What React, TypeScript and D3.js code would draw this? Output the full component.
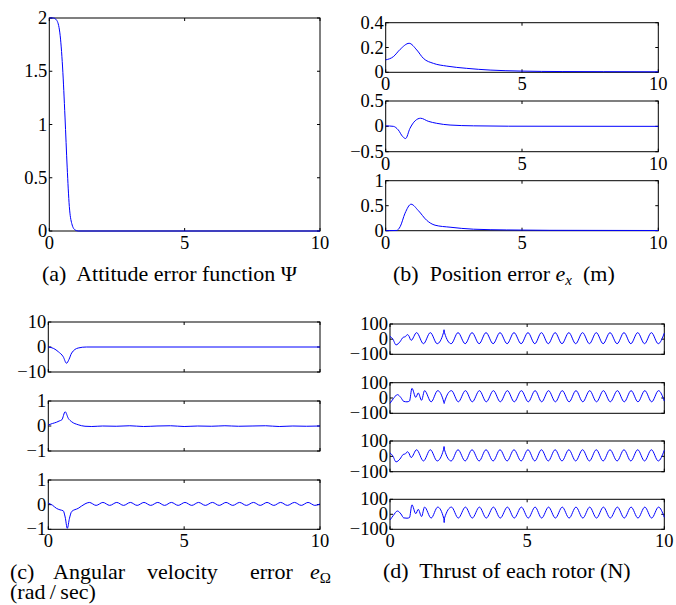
import React from "react";
import * as d3 from "d3";

type P = [number, number];

const xTicks = [0, 5, 10];
const xTickLabels = ["0", "5", "10"];

// (a) attitude error function Psi
const psiData: P[] = [[0, 2], [0.15, 2], [0.27, 1.98], [0.39, 1.86], [0.49, 1.54], [0.58, 1.07], [0.66, 0.6], [0.74, 0.23], [0.83, 0.07], [0.95, 0.01], [1.07, 0], [10, 0]];
const psiYTicks = [0, 0.5, 1, 1.5, 2];
const psiYLabels = ["0", "0.5", "1", "1.5", "2"];

// (b) position error components
const posX: P[] = [[0, 0.1], [0.28, 0.126], [0.53, 0.185], [0.86, 0.234], [1.14, 0.18], [1.38, 0.113], [1.75, 0.072], [2.24, 0.05], [2.97, 0.032], [3.83, 0.018], [4.93, 0.01], [6.5, 0.006], [8, 0.005], [10, 0.004]];
const posY: P[] = [[0, 0.01], [0.28, 0], [0.46, -0.07], [0.62, -0.2], [0.73, -0.24], [0.89, -0.04], [1.08, 0.11], [1.28, 0.16], [1.56, 0.1], [1.87, 0.06], [2.36, 0.026], [3.22, 0.01], [4.5, 0.003], [10, 0]];
const posZ: P[] = [[0, 0], [0.4, 0.005], [0.53, 0.08], [0.71, 0.35], [0.93, 0.53], [1.2, 0.4], [1.5, 0.21], [1.81, 0.11], [2.36, 0.07], [3.22, 0.03], [4.44, 0.015], [6, 0.008], [10, 0.004]];
const posYTicks1 = [0, 0.2, 0.4];
const posYLabels1 = ["0", "0.2", "0.4"];
const posYTicks2 = [-0.5, 0, 0.5];
const posYLabels2 = ["\u22120.5", "0", "0.5"];
const posYTicks3 = [0, 0.5, 1];
const posYLabels3 = ["0", "0.5", "1"];

// (c) angular velocity error components
const angX: P[] = [[0, 0], [0.2, -0.6], [0.37, -1.9], [0.55, -3.9], [0.67, -6.5], [0.76, -5], [0.86, -2.4], [1.1, -0.4], [1.4, 0], [10, 0]];
const angY: P[] = [[0, 0.04], [0.15, 0.1], [0.3, 0.15], [0.4, 0.2], [0.5, 0.25], [0.62, 0.57], [0.74, 0.3], [0.86, 0.17], [1.1, 0.05], [1.35, -0.01], [1.6, -0.02], [2, 0], [2.5, -0.01], [3, 0.01], [3.5, -0.02], [4, 0], [4.5, 0.01], [5, -0.02], [5.5, 0], [6, -0.01], [6.5, 0.01], [7, -0.01], [7.5, 0], [8, 0.01], [8.5, -0.02], [9, 0], [9.5, -0.01], [10, 0]];
const angZ: P[] = [[0, 0.06], [0.15, -0.02], [0.3, -0.15], [0.43, -0.21], [0.55, -0.25], [0.62, -0.5], [0.7, -0.96], [0.78, -0.55], [0.86, -0.28], [1.1, -0.15], [1.35, 0.03], [1.51, 0.09], [1.76, -0.03], [2.01, 0.09], [2.26, -0.03], [2.52, 0.09], [2.77, -0.03], [3.02, 0.09], [3.27, -0.03], [3.52, 0.09], [3.77, -0.03], [4.03, 0.09], [4.28, -0.03], [4.53, 0.09], [4.78, -0.03], [5.03, 0.09], [5.28, -0.03], [5.53, 0.09], [5.78, -0.03], [6.04, 0.09], [6.29, -0.03], [6.54, 0.09], [6.79, -0.03], [7.04, 0.09], [7.29, -0.03], [7.55, 0.09], [7.8, -0.03], [8.05, 0.09], [8.3, -0.03], [8.55, 0.09], [8.8, -0.03], [9.06, 0.09], [9.31, -0.03], [9.56, 0.09], [9.81, -0.03], [10, 0.03]];
const angYTicks1 = [-10, 0, 10];
const angYLabels1 = ["\u221210", "0", "10"];
const angYTicks = [-1, 0, 1];
const angYLabels = ["\u22121", "0", "1"];

// (d) thrust of each rotor
const rotor1: P[] = [[0, 18], [0.1, 2], [0.22, -38], [0.36, -18], [0.48, 12], [0.56, 16], [0.63, 30], [0.68, 24], [0.77, -8], [0.97, 43], [1.22, -30], [1.47, 43], [1.72, -30], [1.95, 43], [1.97, 62], [1.99, 41], [2.23, -30], [2.48, 43], [2.74, -30], [2.99, 43], [3.25, -30], [3.5, 43], [3.76, -30], [4.01, 43], [4.27, -30], [4.52, 43], [4.78, -30], [5.03, 43], [5.28, -30], [5.52, 43], [5.77, -30], [6.02, 43], [6.27, -30], [6.52, 43], [6.77, -30], [7.02, 43], [7.27, -30], [7.52, 43], [7.77, -30], [8.02, 43], [8.28, -30], [8.53, 43], [8.78, -30], [9.03, 43], [9.28, -30], [9.53, 43], [9.78, -30], [10, 40]];
const rotor2: P[] = [[0, -35], [0.12, -5], [0.27, 22], [0.4, 2], [0.5, -22], [0.62, -25], [0.71, -20], [0.8, 63], [0.94, 4], [1.03, 33], [1.15, -15], [1.26, 48], [1.5, -25], [1.74, 48], [1.96, -26], [1.975, -36], [1.99, -24], [2.24, 48], [2.49, -25], [2.75, 48], [3.0, -25], [3.26, 48], [3.51, -25], [3.77, 48], [4.02, -25], [4.28, 48], [4.53, -25], [4.79, 48], [5.04, -25], [5.29, 48], [5.53, -25], [5.78, 48], [6.03, -25], [6.28, 48], [6.53, -25], [6.78, 48], [7.03, -25], [7.28, 48], [7.53, -25], [7.78, 48], [8.03, -25], [8.29, 48], [8.54, -25], [8.79, 48], [9.04, -25], [9.29, 48], [9.54, -25], [9.79, 48], [10, -20]];
const rotor3: P[] = [[0, 22], [0.1, 4], [0.22, -36], [0.36, -18], [0.48, 12], [0.56, 16], [0.63, 30], [0.68, 24], [0.77, -8], [0.97, 43], [1.22, -30], [1.47, 43], [1.72, -30], [1.95, 43], [1.97, 64], [1.99, 41], [2.23, -30], [2.48, 43], [2.74, -30], [2.99, 43], [3.25, -30], [3.5, 43], [3.76, -30], [4.01, 43], [4.27, -30], [4.52, 43], [4.78, -30], [5.03, 43], [5.28, -30], [5.52, 43], [5.77, -30], [6.02, 43], [6.27, -30], [6.52, 43], [6.77, -30], [7.02, 43], [7.27, -30], [7.52, 43], [7.77, -30], [8.02, 43], [8.28, -30], [8.53, 43], [8.78, -30], [9.03, 43], [9.28, -30], [9.53, 43], [9.78, -30], [10, 40]];
const rotor4: P[] = [[0, -38], [0.12, -8], [0.27, 22], [0.4, 2], [0.5, -24], [0.62, -26], [0.71, -22], [0.8, 63], [0.94, 4], [1.03, 33], [1.15, -15], [1.26, 48], [1.5, -25], [1.74, 48], [1.96, -28], [1.975, -55], [1.99, -24], [2.24, 48], [2.49, -25], [2.75, 48], [3.0, -25], [3.26, 48], [3.51, -25], [3.77, 48], [4.02, -25], [4.28, 48], [4.53, -25], [4.79, 48], [5.04, -25], [5.29, 48], [5.53, -25], [5.78, 48], [6.03, -25], [6.28, 48], [6.53, -25], [6.78, 48], [7.03, -25], [7.28, 48], [7.53, -25], [7.78, 48], [8.03, -25], [8.29, 48], [8.54, -25], [8.79, 48], [9.04, -25], [9.29, 48], [9.54, -25], [9.79, 48], [10, -20]];
const thrustYTicks = [-100, 0, 100];
const thrustYLabels = ["\u2212100", "0", "100"];

const FONT = "Liberation Serif, DejaVu Serif, Times New Roman, serif";
const TICK_FS = 18.5;
const CAP_FS = 22;
const tickStyle = { fontFamily: FONT, fontSize: TICK_FS };

interface AxesProps {
  x0: number; x1: number; y0: number; y1: number;
  yDomain: [number, number];
  yTicks: number[]; yLabels: string[];
  showX: boolean;
  data: P[];
}

function Axes({ x0, x1, y0, y1, yDomain, yTicks, yLabels, showX, data }: AxesProps) {
  const xs = d3.scaleLinear().domain([0, 10]).range([x0, x1]);
  const ys = d3.scaleLinear().domain(yDomain).range([y1, y0]);
  const line = d3.line<P>().x(d => xs(d[0])).y(d => ys(d[1])).curve(d3.curveMonotoneX);
  const tl = 3;
  return (
    <g>
      <rect x={x0} y={y0} width={x1 - x0} height={y1 - y0} fill="#fff" stroke="#000" strokeWidth={1} />
      {xTicks.map(t => (
        <g key={"xt" + t} stroke="#000" strokeWidth={1}>
          <line x1={xs(t)} x2={xs(t)} y1={y1} y2={y1 - tl} />
          <line x1={xs(t)} x2={xs(t)} y1={y0} y2={y0 + tl} />
        </g>
      ))}
      {yTicks.map(t => (
        <g key={"yt" + t} stroke="#000" strokeWidth={1}>
          <line x1={x0} x2={x0 + tl} y1={ys(t)} y2={ys(t)} />
          <line x1={x1} x2={x1 - tl} y1={ys(t)} y2={ys(t)} />
        </g>
      ))}
      <path d={line(data) || ""} fill="none" stroke="#0000ff" strokeWidth={1} />
      {yTicks.map((t, i) => (
        <text key={"yl" + t} x={x0 - 2} y={ys(t) + 6} textAnchor="end"
          style={tickStyle} fill="#000">{yLabels[i]}</text>
      ))}
      {showX && xTicks.map((t, i) => (
        <text key={"xl" + t} x={xs(t)} y={y1 + 18} textAnchor="middle"
          style={tickStyle} fill="#000">{xTickLabels[i]}</text>
      ))}
    </g>
  );
}

export default function App() {
  const bx0 = 385.7, bx1 = 658.3;
  const cx0 = 48.3, cx1 = 320;
  const dx0 = 390, dx1 = 664.3;
  const capStyle = { fontFamily: FONT, fontSize: CAP_FS, whiteSpace: "pre" as const };
  return (
    <svg width={676} height={605} style={{ position: "absolute", left: 0, top: 0, background: "#fff" }}>
      <rect x={0} y={0} width={676} height={605} fill="#fff" />
      {/* (a) */}
      <Axes x0={49.3} x1={320} y0={18} y1={231} yDomain={[0, 2]} yTicks={psiYTicks} yLabels={psiYLabels} showX data={psiData} />
      {/* (b) */}
      <Axes x0={bx0} x1={bx1} y0={22.7} y1={72.3} yDomain={[0, 0.4]} yTicks={posYTicks1} yLabels={posYLabels1} showX data={posX} />
      <Axes x0={bx0} x1={bx1} y0={101} y1={151.7} yDomain={[-0.5, 0.5]} yTicks={posYTicks2} yLabels={posYLabels2} showX data={posY} />
      <Axes x0={bx0} x1={bx1} y0={180.7} y1={230.7} yDomain={[0, 1]} yTicks={posYTicks3} yLabels={posYLabels3} showX data={posZ} />
      {/* (c) */}
      <Axes x0={cx0} x1={cx1} y0={322} y1={372} yDomain={[-10, 10]} yTicks={angYTicks1} yLabels={angYLabels1} showX={false} data={angX} />
      <Axes x0={cx0} x1={cx1} y0={401} y1={451} yDomain={[-1, 1]} yTicks={angYTicks} yLabels={angYLabels} showX={false} data={angY} />
      <Axes x0={cx0} x1={cx1} y0={480} y1={529.3} yDomain={[-1, 1]} yTicks={angYTicks} yLabels={angYLabels} showX data={angZ} />
      {/* (d) */}
      <Axes x0={dx0} x1={dx1} y0={324} y1={354.3} yDomain={[-100, 100]} yTicks={thrustYTicks} yLabels={thrustYLabels} showX={false} data={rotor1} />
      <Axes x0={dx0} x1={dx1} y0={382.7} y1={413.3} yDomain={[-100, 100]} yTicks={thrustYTicks} yLabels={thrustYLabels} showX={false} data={rotor2} />
      <Axes x0={dx0} x1={dx1} y0={441} y1={471.7} yDomain={[-100, 100]} yTicks={thrustYTicks} yLabels={thrustYLabels} showX={false} data={rotor3} />
      <Axes x0={dx0} x1={dx1} y0={499.3} y1={529.3} yDomain={[-100, 100]} yTicks={thrustYTicks} yLabels={thrustYLabels} showX data={rotor4} />

      {/* captions */}
      <g fill="#000">
        <text x={42} y={281} style={capStyle}>(a)  Attitude error function Ψ</text>
        <text x={393} y={281} style={capStyle}>
          (b)  Position error <tspan fontStyle="italic">e</tspan>
          <tspan fontStyle="italic" style={{ fontSize: 15 }} dy={4}>x</tspan>
          <tspan dy={-4}>  (m)</tspan>
        </text>
        <text x={10} y={579} style={capStyle}>(c)</text>
        <text x={53} y={579} style={capStyle}>Angular</text>
        <text x={147} y={579} style={capStyle}>velocity</text>
        <text x={250} y={579} style={capStyle}>error</text>
        <text x={310} y={579} style={capStyle}>
          <tspan fontStyle="italic">e</tspan>
          <tspan style={{ fontSize: 15 }} dy={4}>Ω</tspan>
        </text>
        <text x={10} y={599} style={capStyle}>(rad{"\u2009"}/{"\u2009"}sec)</text>
        <text x={383} y={578} style={capStyle}>(d)  Thrust of each rotor (N)</text>
      </g>
    </svg>
  );
}
